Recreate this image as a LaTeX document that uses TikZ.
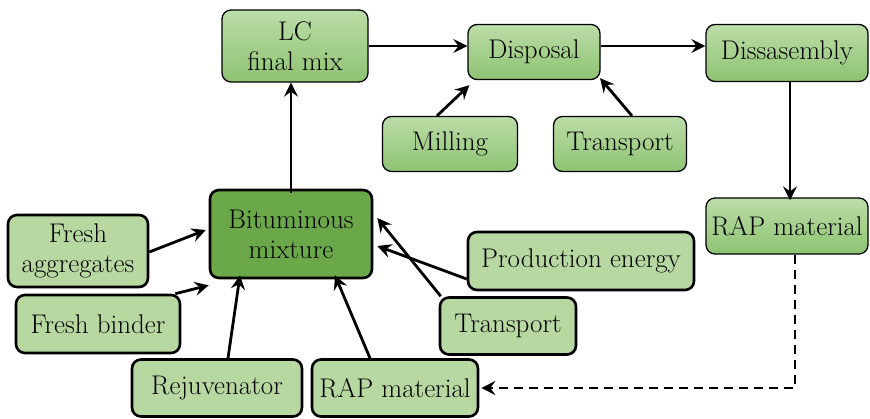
\documentclass[tikz,border=0pt]{standalone}
\usepackage{fontspec}
\usetikzlibrary{arrows.meta}
\definecolor{gtop}{HTML}{BCDDA8}
\definecolor{gbot}{HTML}{8EC372}
\definecolor{flat}{HTML}{B8D8A2}
\definecolor{dark}{HTML}{6BA84A}
\tikzset{
  base/.style={draw=black, rounded corners=9pt, align=center, inner sep=0pt,
    font=\fontsize{27}{30}\selectfont},
  topbox/.style={base, line width=1.3pt, top color=gtop, bottom color=gbot},
  lowbox/.style={base, line width=2.6pt, fill=flat},
  mainbox/.style={base, line width=2.6pt, fill=dark},
  arr/.style={line width=2.8pt, -{Stealth[length=14pt,width=14pt,inset=5pt]}},
  darr/.style={line width=2.4pt, dashed, dash pattern=on 9pt off 6pt, -{Stealth[length=14pt,width=14pt,inset=5pt]}},
}
\begin{document}
\begin{tikzpicture}[x=1pt,y=-1pt]
\useasboundingbox (0,0) rectangle (870,419);
% top row
\node[topbox, minimum width=146pt, minimum height=72pt] (lc) at (295,46) {LC\\final mix};
\node[topbox, minimum width=132pt, minimum height=55pt] (disp) at (534,52) {Disposal};
\node[topbox, minimum width=162pt, minimum height=57pt] (dis) at (787,53) {Dissasembly};
\node[topbox, minimum width=135pt, minimum height=55pt] (mill) at (450,144) {Milling};
\node[topbox, minimum width=133pt, minimum height=55pt] (tr1) at (620,144) {Transport};
\node[topbox, minimum width=162pt, minimum height=56pt] (rap1) at (787,226) {RAP material};
% bottom
\node[mainbox, minimum width=162pt, minimum height=88pt] (bit) at (291,234) {Bituminous\\mixture};
\node[lowbox, minimum width=140pt, minimum height=72pt] (fa) at (78,251) {Fresh\\aggregates};
\node[lowbox, minimum width=164pt, minimum height=58pt] (fb) at (98,324) {Fresh binder};
\node[lowbox, minimum width=170pt, minimum height=57pt] (rej) at (217,388) {Rejuvenator};
\node[lowbox, minimum width=166pt, minimum height=57pt] (rap2) at (395,388) {RAP material};
\node[lowbox, minimum width=136pt, minimum height=57pt] (tr2) at (508,326) {Transport};
\node[lowbox, minimum width=226pt, minimum height=58pt] (pe) at (581,261) {Production energy};
% arrows
\draw[arr] ([yshift=-4pt]bit.north) -- (bit.north |- lc.south);
\draw[arr] (lc.east) -- (disp.west |- lc.east);
\draw[arr] (disp.east |- 0,46) -- (dis.west |- 0,46);
\draw[arr] ([xshift=-13pt]mill.north) -- ([xshift=2pt,yshift=-5pt]disp.south west);
\draw[arr] ([xshift=12pt]tr1.north) -- ([xshift=66pt,yshift=2pt]disp.south);
\draw[arr] ([xshift=3pt]dis.south) -- ([xshift=3pt,yshift=-3pt]rap1.north);
\draw[darr] ([xshift=8pt]rap1.south) |- ([xshift=2pt]rap2.east);
\draw[arr] ([yshift=-1pt]fa.east) -- ([xshift=-3pt,yshift=4pt]bit.west);
\draw[arr] ([xshift=-6pt]fb.north east) -- ([xshift=0pt,yshift=-6pt]bit.south west);
\draw[arr] ([xshift=11pt]rej.north) -- ([xshift=-51pt,yshift=4pt]bit.south);
\draw[arr] ([xshift=-25pt]rap2.north) -- ([xshift=44pt,yshift=4pt]bit.south);
\draw[arr] ([xshift=2pt]tr2.north west) -- ([xshift=4pt,yshift=16pt]bit.east);
\draw[arr] ([yshift=-18pt]pe.west) -- ([xshift=4pt,yshift=-12pt]bit.east);
\end{tikzpicture}
\end{document}
